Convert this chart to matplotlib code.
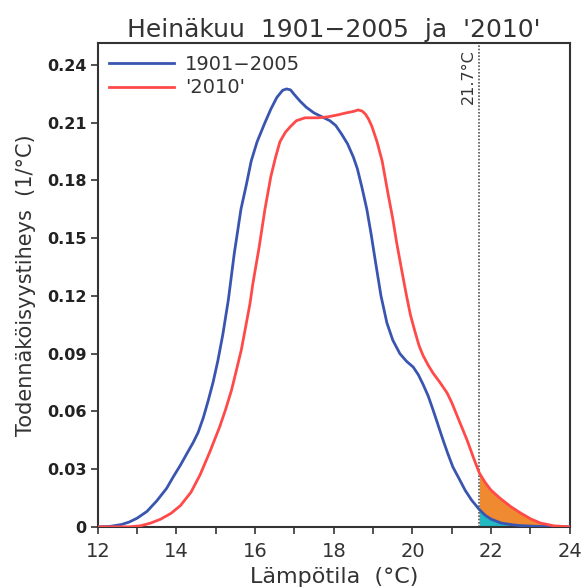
import numpy as np
import matplotlib
matplotlib.use("Agg")
import matplotlib.pyplot as plt
from matplotlib.ticker import MultipleLocator, FuncFormatter

# values
blue_x = [12.0, 12.3, 12.6, 12.8, 13.0, 13.25, 13.5, 13.75, 13.92, 14.1, 14.25,
          14.43, 14.55, 14.68, 14.8, 14.93, 15.05, 15.18, 15.32, 15.47, 15.64,
          15.78, 15.9, 16.05, 16.25, 16.4, 16.55, 16.7, 16.8, 16.9, 17.0, 17.15,
          17.3, 17.5, 17.7, 17.9, 18.05, 18.2, 18.35, 18.5, 18.6, 18.72, 18.84,
          18.95, 19.05, 19.2, 19.35, 19.5, 19.68, 19.85, 20.02, 20.15, 20.27,
          20.4, 20.52, 20.65, 20.78, 20.9, 21.03, 21.2, 21.34, 21.5, 21.7, 21.85,
          22.0, 22.25, 22.5, 22.7, 23.0, 23.3, 24.0]
blue_y = [0.0, 0.0002, 0.0012, 0.0025, 0.0045, 0.008, 0.0135, 0.02, 0.026, 0.032,
          0.0375, 0.044, 0.049, 0.0565, 0.065, 0.075, 0.086, 0.1, 0.118, 0.142,
          0.165, 0.178, 0.19, 0.2, 0.21, 0.217, 0.223, 0.2268, 0.2275, 0.227,
          0.2245, 0.221, 0.218, 0.215, 0.213, 0.211, 0.2085, 0.204, 0.199, 0.192,
          0.186, 0.176, 0.165, 0.152, 0.139, 0.12, 0.106, 0.097, 0.09, 0.086,
          0.083, 0.079, 0.074, 0.068, 0.061, 0.053, 0.045, 0.038, 0.031, 0.0245,
          0.019, 0.014, 0.009, 0.006, 0.004, 0.002, 0.0012, 0.0007, 0.0004,
          0.0002, 0.0]

red_x = [12.0, 12.8, 13.1, 13.35, 13.6, 13.86, 14.1, 14.37, 14.6, 14.85, 15.1,
         15.25, 15.4, 15.52, 15.65, 15.76, 15.87, 15.94, 16.1, 16.25, 16.4, 16.52,
         16.63, 16.77, 16.9, 17.05, 17.27, 17.6, 17.85, 18.1, 18.3, 18.5, 18.62,
         18.72, 18.8, 18.88, 18.97, 19.1, 19.23, 19.38, 19.5, 19.6, 19.73, 19.85,
         19.95, 20.07, 20.17, 20.27, 20.4, 20.52, 20.7, 20.88, 21.0, 21.13, 21.26,
         21.39, 21.55, 21.7, 21.85, 22.0, 22.23, 22.5, 22.74, 23.0, 23.25, 23.6,
         24.0]
red_y = [0.0, 0.0, 0.0006, 0.002, 0.004, 0.007, 0.011, 0.018, 0.027, 0.039,
         0.052, 0.061, 0.071, 0.081, 0.092, 0.104, 0.116, 0.126, 0.145, 0.165,
         0.182, 0.192, 0.2, 0.205, 0.208, 0.211, 0.2125, 0.2125, 0.213, 0.214,
         0.215, 0.2158, 0.2166, 0.216, 0.2145, 0.212, 0.208, 0.2, 0.19, 0.173,
         0.16, 0.1475, 0.133, 0.12, 0.11, 0.101, 0.094, 0.089, 0.084, 0.08,
         0.075, 0.0696, 0.0645, 0.058, 0.0515, 0.045, 0.036, 0.028, 0.023, 0.019,
         0.0148, 0.0105, 0.0073, 0.0042, 0.002, 0.0005, 0.0]

threshold = 21.7
label_blue = "1901\u22122005"
label_red = "'2010'"

txt = "#333333"
plt.rcParams['font.family'] = ['DejaVu Sans']

fig = plt.figure(figsize=(5.82, 5.88), dpi=100)
ax = fig.add_axes([0.168, 0.104, 0.811, 0.823])

bx = np.array(blue_x)
by = np.array(blue_y)
rx = np.array(red_x)
ry = np.array(red_y)

ax.fill_between(rx, ry, where=rx >= threshold, color="#f08a30", lw=0)
ax.fill_between(bx, by, where=bx >= threshold, color="#22b8c4", lw=0)

ax.plot(bx, by, color="#3a55b0", lw=2.0, label=label_blue, zorder=3,
        solid_joinstyle="round")
ax.plot(rx, ry, color="#ff4a4a", lw=2.0, label=label_red, zorder=3,
        solid_joinstyle="round")

ax.axvline(threshold, color="#555555", lw=1.2, ls=(0, (1, 1)), zorder=2)
ax.text(threshold - 0.08, 0.248, "21.7\u00b0C", rotation=90, ha="right", va="top",
        fontsize=11.5, color=txt)

ax.set_xlim(12, 24)
ax.set_ylim(0, 0.2514)
ax.xaxis.set_major_locator(MultipleLocator(2))
ax.xaxis.set_minor_locator(MultipleLocator(1))
ax.yaxis.set_major_locator(MultipleLocator(0.03))
ax.yaxis.set_major_formatter(FuncFormatter(lambda v, p: "0" if abs(v) < 1e-9 else "%.2f" % v))

ax.tick_params(axis="both", which="both", direction="out", color="#333333", width=1.2)
ax.tick_params(axis="both", which="major", length=5)
ax.tick_params(axis="x", which="minor", length=5)
ax.tick_params(axis="x", labelsize=14, labelcolor=txt, pad=6)
ax.tick_params(axis="y", labelsize=11.5, labelcolor="#222222", pad=3)
for lab in ax.get_yticklabels():
    lab.set_fontweight("bold")
for s in ax.spines.values():
    s.set_linewidth(1.5)
    s.set_color("#333333")

ax.set_title("Heinäkuu  1901\u22122005  ja  '2010'", fontsize=18, color=txt, pad=4)
ax.set_xlabel("Lämpötila  (\u00b0C)", fontsize=16, color=txt, labelpad=4)
ax.set_ylabel("Todennäköisyystiheys  (1/\u00b0C)", fontsize=15, color=txt, labelpad=8)

leg = ax.legend(loc="upper left", frameon=False, fontsize=14, handlelength=3.3,
                borderaxespad=0.2, labelspacing=0.25, handletextpad=0.6)
for t in leg.get_texts():
    t.set_color(txt)

fig.savefig("out.png", dpi=100)
